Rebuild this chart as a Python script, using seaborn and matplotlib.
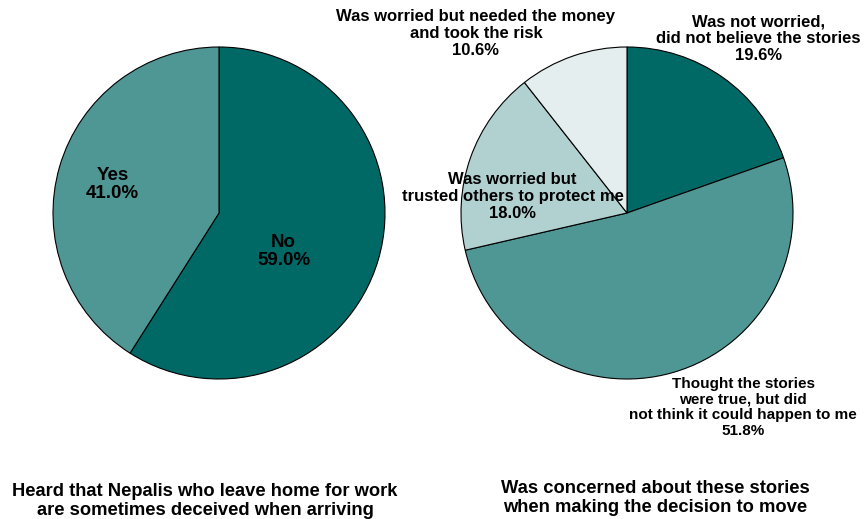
import matplotlib
matplotlib.use('Agg')
import matplotlib.pyplot as plt
import seaborn as sns

# left pie: heard about deception
heard_labels = ['No', 'Yes']
heard_values = [59.0, 41.0]

# right pie: concern when deciding to move
concern_labels = ['Was not worried,\ndid not believe the stories',
                  'Thought the stories\nwere true, but did\nnot think it could happen to me',
                  'Was worried but\ntrusted others to protect me',
                  'Was worried but needed the money\nand took the risk']
concern_values = [19.6, 51.8, 18.0, 10.6]

titles = ['Heard that Nepalis who leave home for work\nare sometimes deceived when arriving',
          'Was concerned about these stories\nwhen making the decision to move']

sns.set_theme(style='white')
plt.rcParams['font.family'] = ['Liberation Sans', 'DejaVu Sans']

colors = ['#006865', '#4f9794', '#b1d1d0', '#e4eeee']

fig = plt.figure(figsize=(8.64, 5.19), dpi=100)
W, H = 864, 519
R = 166


def pie_axes(cx, cy):
    ax = fig.add_axes([(cx - R) / W, (H - cy - R) / H, 2 * R / W, 2 * R / H])
    ax.axis('off')
    return ax


ax1 = pie_axes(219, 213)
ax1.pie(heard_values, colors=colors[:2], startangle=90, counterclock=False,
        radius=1, wedgeprops=dict(edgecolor='black', linewidth=0.8))
ax1.set_xlim(-1, 1)
ax1.set_ylim(-1, 1)
pos1 = [(0.39, -0.23), (-0.64, 0.17)]
for lab, v, (x, y) in zip(heard_labels, heard_values, pos1):
    ax1.text(x, y, f'{lab}\n{v:.1f}%', ha='center', va='center', fontsize=13.5,
             fontweight='bold', linespacing=1.05, color='black')

ax2 = pie_axes(627, 213)
ax2.pie(concern_values, colors=colors, startangle=90, counterclock=False,
        radius=1, wedgeprops=dict(edgecolor='black', linewidth=0.8))
ax2.set_xlim(-1, 1)
ax2.set_ylim(-1, 1)
pos2 = [(0.79, 1.05), (0.70, -1.17), (-0.69, 0.10), (-0.91, 1.08)]
sizes2 = [12, 11, 12, 12]
for lab, v, (x, y), fs in zip(concern_labels, concern_values, pos2, sizes2):
    ax2.text(x, y, f'{lab}\n{v:.1f}%', ha='center', va='center', fontsize=fs,
             fontweight='bold', linespacing=1.15, color='black', clip_on=False)

fig.text(205 / W, 1 - 501 / H, titles[0], ha='center', va='center', fontsize=13.2,
         fontweight='bold', linespacing=1.1, color='black')
fig.text(655 / W, 1 - 498 / H, titles[1], ha='center', va='center', fontsize=13.2,
         fontweight='bold', linespacing=1.1, color='black')

fig.savefig('out.png', dpi=100, facecolor='white')
